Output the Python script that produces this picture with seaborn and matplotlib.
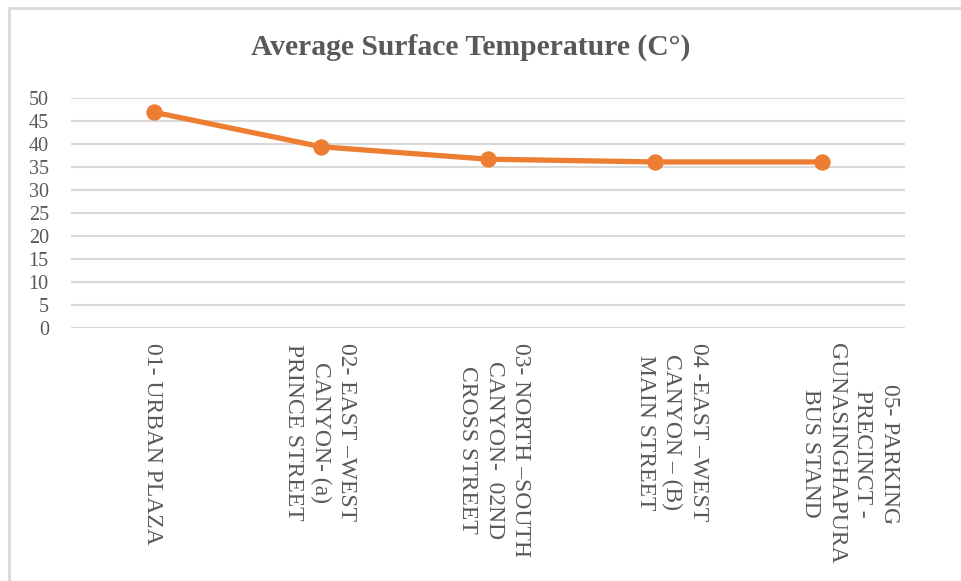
import matplotlib
matplotlib.use("Agg")
import matplotlib.pyplot as plt
import matplotlib.transforms as mtransforms
import seaborn as sns
import pandas as pd
from matplotlib.patches import Rectangle

# data
categories = [
    "01- URBAN PLAZA",
    "02- EAST \u2013WEST\nCANYON- (a)\nPRINCE STREET",
    "03- NORTH \u2013SOUTH\nCANYON-  02ND\nCROSS STREET",
    "04 -EAST \u2013WEST\nCANYON \u2013 (B)\nMAIN STREET",
    "05- PARKING\nPRECINCT -\nGUNASINGHAPURA\nBUS STAND",
]
temps = [46.9, 39.4, 36.7, 36.1, 36.1]
y_ticks = [0, 5, 10, 15, 20, 25, 30, 35, 40, 45, 50]

df = pd.DataFrame({"site": categories, "temp": temps})

sns.set_style("white")
plt.rcParams["font.family"] = ["Liberation Serif", "DejaVu Serif"]

text_color = "#595959"
grid_color = "#D9D9D9"
line_color = "#ED7D31"

fig = plt.figure(figsize=(9.62, 5.81), dpi=100)
ax = fig.add_axes([0.0738, 0.4355, 0.867, 0.3958])

# chart border (Excel style)
fig.patches.append(Rectangle((9 / 962, -0.1), 1.2, 1 - 8 / 581 + 0.1,
                             transform=fig.transFigure, fill=False,
                             edgecolor="#D9D9D9", linewidth=2))

sns.lineplot(data=df, x="site", y="temp", ax=ax, sort=False,
             color=line_color, linewidth=3.8, marker="o", markersize=11,
             markeredgecolor=line_color)

ax.set_ylim(0, 50)
ax.set_xlim(-0.5, len(categories) - 0.5)
ax.set_yticks(y_ticks)
ax.yaxis.grid(True, color=grid_color, linewidth=1.5)
ax.set_axisbelow(True)
for s in ax.spines.values():
    s.set_visible(False)

ax.set_xlabel("")
ax.set_ylabel("")
ax.tick_params(axis="y", length=0, pad=16, labelsize=14.5, labelcolor=text_color)
ax.tick_params(axis="x", length=0, pad=11)
ax.set_xticks(range(len(categories)))
ax.set_xticklabels(categories, rotation=-90, fontsize=17, color=text_color,
                   va="top", ha="center", multialignment="center",
                   linespacing=1.33)

# Excel nudges the wrapped labels sideways a bit
label_shift_px = [-2, -1, 6, 17, 28]
for lbl, dx in zip(ax.get_xticklabels(), label_shift_px):
    off = mtransforms.ScaledTranslation(dx / 100, 0, fig.dpi_scale_trans)
    lbl.set_transform(lbl.get_transform() + off)

fig.text(0.489, 1 - 47 / 581, "Average Surface Temperature (C\u00b0)",
         ha="center", va="center", fontsize=21.3, fontweight="bold",
         color=text_color)

fig.savefig("out.png", dpi=100)
